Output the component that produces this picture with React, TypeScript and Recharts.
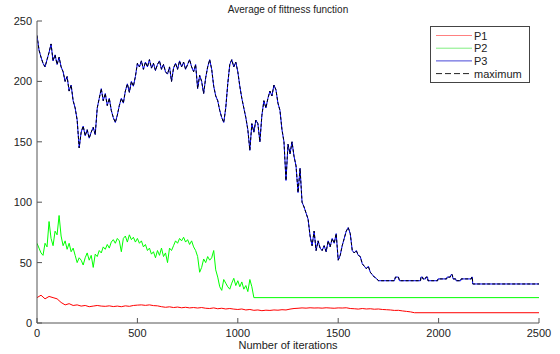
import React from 'react';
import { LineChart, Line, XAxis, YAxis, Legend, Label } from 'recharts';

// ---- data ----
const xTicks = [0, 500, 1000, 1500, 2000, 2500];
const yTicks = [0, 50, 100, 150, 200, 250];

// P3 sampled every 10 iterations, 0..1700
const p3Step = 10;
const p3Values = [
  238, 226, 220, 215, 212, 218, 224, 231, 217, 222,
  214, 220, 212, 208, 200, 204, 192, 197, 184, 178,
  168, 145, 158, 163, 155, 160, 153, 158, 162, 156,
  178, 186, 194, 184, 190, 180, 186, 176, 170, 166,
  172, 180, 186, 182, 192, 198, 191, 200, 196, 204,
  215, 212, 217, 210, 216, 212, 218, 211, 215, 209,
  214, 217, 210, 214, 208, 206, 212, 200, 211, 215,
  210, 217, 212, 216, 210, 214, 218, 212, 208, 214,
  194, 205, 200, 190, 203, 212, 218, 210, 196, 188,
  184, 176, 170, 166, 178, 198, 214, 218, 212, 216,
  208, 196, 186, 178, 170, 160, 143, 165, 158, 168,
  165, 150, 172, 184, 178, 186, 192, 188, 197, 193,
  182, 176, 160, 150, 118, 148, 140, 150, 138, 130,
  108, 128, 100, 96, 91, 86, 72, 64, 76, 60,
  68, 62, 60, 64, 59, 68, 63, 70, 66, 74,
  52, 56, 64, 70, 76, 79, 74, 60, 58, 60,
  56, 55, 49, 47, 45, 47, 42, 40, 38, 37,
  35,
];
// P3 stepped tail after 1700
const p3TailIterations = [1780, 1785, 1800, 1805, 1910, 1912, 1920, 1922, 1935, 1937, 1945, 1947, 1995, 1997, 2040, 2042, 2058, 2062, 2068, 2072, 2085, 2087, 2110, 2112, 2163, 2165, 2168, 2170, 2500];
const p3TailValues = [35, 38, 38, 35, 35, 38, 38, 36.5, 36.5, 38, 38, 35, 35, 36.5, 36.5, 38, 38, 40, 40, 36.5, 36.5, 35, 35, 36.5, 36.5, 38, 38, 32.3, 32.3];

// maximum coincides with P3 in the picture
const maximumValues = p3Values;
const maximumTailValues = p3TailValues;

// P2 sampled every 10 iterations, 0..1080, then flat
const p2Step = 10;
const p2Values = [
  66, 62, 58, 56, 66, 63, 84, 70, 64, 76,
  73, 89, 72, 64, 68, 61, 66, 59, 62, 56,
  50, 54, 52, 48, 54, 58, 52, 56, 46, 57,
  55, 60, 58, 63, 61, 65, 62, 67, 69, 66,
  70, 68, 59, 70, 72, 67, 73, 69, 71, 67,
  70, 66, 68, 63, 65, 60, 62, 57, 59, 54,
  60, 56, 62, 55, 58, 50, 62, 60, 64, 68,
  66, 70, 68, 71, 67, 69, 65, 68, 63, 60,
  55, 42, 46, 53, 50, 55, 52, 54, 60, 44,
  38, 30, 27, 36, 33, 30, 28, 33, 37, 31,
  35, 30, 34, 28, 31, 26, 36, 30, 21,
];
const p2TailIterations = [2500];
const p2TailValues = [21];

// P1 sampled every 20 iterations, 0..1880, then flat
const p1Step = 20;
const p1Values = [
  21, 23, 20, 22, 21, 20, 17, 15, 16, 14.5,
  15, 14, 14.5, 13.5, 14, 14.5, 14, 13.8, 14.2, 13.6,
  14, 13.5, 14.2, 13.8, 14.5, 14.8, 15, 14.6, 15, 14.4,
  14.2, 13.5, 13, 13.4, 12.8, 13.2, 12.6, 13, 12.5, 12.8,
  12.4, 12.8, 12.2, 12, 12.5, 11.8, 12.2, 11.6, 12, 11.5,
  11.2, 11.6, 10.8, 11.2, 10.5, 10.8, 10.2, 10.6, 10.4, 10.8,
  10.6, 11, 10.8, 11.5, 12, 12.2, 12.5, 12.3, 12.6, 12.4,
  12.5, 12.3, 12.6, 12.4, 12.2, 12.5, 12.4, 12.6, 12, 11.8,
  11.5, 12, 11.6, 11.8, 11.4, 11.6, 11.2, 11, 10.8, 10.4,
  10.5, 10, 9.6, 9.2, 8.5,
];
const p1TailIterations = [2500];
const p1TailValues = [8.5];

const seriesNames = ['P1', 'P2', 'P3', 'maximum'];

// ---- build tables ----
function build(step: number, vals: number[], tailIt: number[], tailVals: number[]) {
  const rows = vals.map((v, i) => ({ iter: i * step, value: v }));
  tailIt.forEach((it, i) => rows.push({ iter: it, value: tailVals[i] }));
  return rows;
}
const p1Data = build(p1Step, p1Values, p1TailIterations, p1TailValues);
const p2Data = build(p2Step, p2Values, p2TailIterations, p2TailValues);
const p3Data = build(p3Step, p3Values, p3TailIterations, p3TailValues);
const maxData = build(p3Step, maximumValues, p3TailIterations, maximumTailValues);

const FONT = '"Liberation Sans", Arial, sans-serif';

const legendColors = ['#ff8080', '#80ee80', '#4848d8', '#222'];

const LegendBox = () => (
  <svg width={100} height={57} style={{ display: 'block' }}>
    <rect x={0.5} y={0.5} width={99} height={56} fill="#fff" stroke="#444" strokeWidth={1} />
    {seriesNames.map((n, i) => {
      const cy = 9.5 + i * 12.7;
      return (
        <g key={n}>
          <line x1={6} x2={42} y1={cy} y2={cy} stroke={legendColors[i]} strokeWidth={1}
            strokeDasharray={i === 3 ? '6 3' : undefined} />
          <text x={44} y={cy + 4} fontSize={11} fill="#222" fontFamily={FONT}>{n}</text>
        </g>
      );
    })}
  </svg>
);

export default function App() {
  return (
    <div style={{ position: 'absolute', left: 0, top: 0, width: 560, height: 354, background: '#fff', fontFamily: FONT }}>
      <div style={{ position: 'absolute', left: 0, top: 4, width: 576, textAlign: 'center', fontSize: 10, color: '#222' }}>
        Average of fittness function
      </div>
      <LineChart width={560} height={354} margin={{ top: 21, right: 21, bottom: 0, left: 0 }}>
        <XAxis dataKey="iter" type="number" domain={[0, 2500]} ticks={xTicks} allowDataOverflow
          height={31} tickSize={-5} tickMargin={11} stroke="#555"
          tick={{ fontSize: 11, fill: '#222', fontFamily: FONT }}>
          <Label value="Number of iterations" position="insideBottom" offset={5}
            style={{ fontSize: 11, fill: '#222', fontFamily: FONT }} />
        </XAxis>
        <YAxis type="number" domain={[0, 250]} ticks={yTicks} allowDataOverflow width={37}
          tickSize={-5} tickMargin={10} stroke="#555"
          tick={{ fontSize: 11, fill: '#222', fontFamily: FONT }} />
        <Legend layout="horizontal" verticalAlign="middle" align="center"
          wrapperStyle={{ left: 430, top: 26, width: 100, height: 57 }} content={() => <LegendBox />} />
        <Line data={p1Data} dataKey="value" name="P1" stroke="#ff0000" strokeWidth={1} dot={false} activeDot={false} isAnimationActive={false} type="linear" />
        <Line data={p2Data} dataKey="value" name="P2" stroke="#00ff00" strokeWidth={1} dot={false} activeDot={false} isAnimationActive={false} type="linear" />
        <Line data={p3Data} dataKey="value" name="P3" stroke="#0000ff" strokeWidth={1} dot={false} activeDot={false} isAnimationActive={false} type="linear" />
        <Line data={maxData} dataKey="value" name="maximum" stroke="#000" strokeWidth={1} strokeDasharray="3 2" dot={false} activeDot={false} isAnimationActive={false} type="linear" />
      </LineChart>
    </div>
  );
}
